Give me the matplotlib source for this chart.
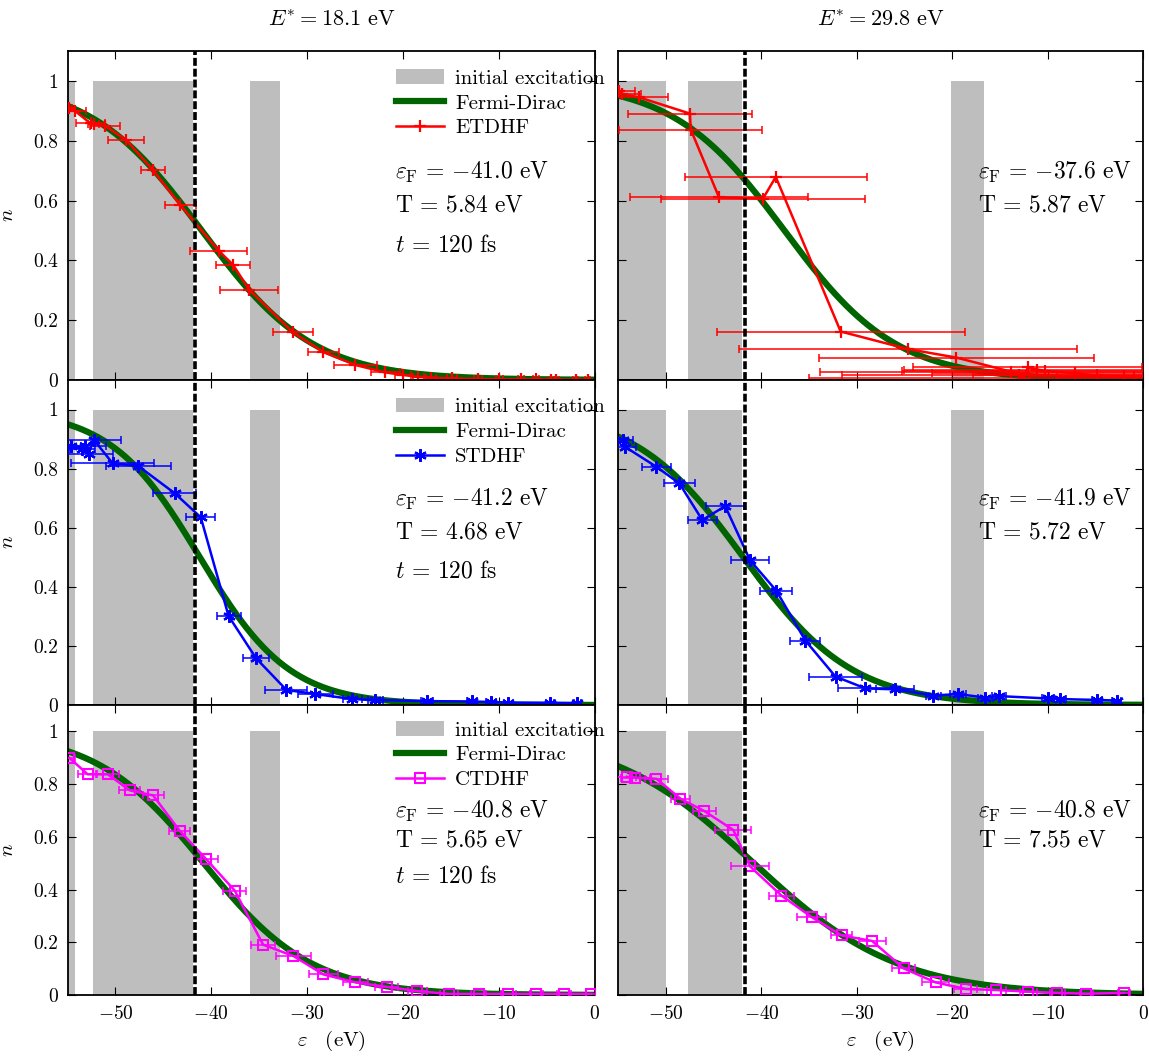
import numpy as np
import matplotlib
matplotlib.use('Agg')
import matplotlib.pyplot as plt
from matplotlib.ticker import FuncFormatter

plt.rcParams['font.family'] = 'serif'
plt.rcParams['font.serif'] = ['cmr10', 'DejaVu Serif']
plt.rcParams['mathtext.fontset'] = 'cm'
plt.rcParams['axes.formatter.use_mathtext'] = True
plt.rcParams['axes.unicode_minus'] = False

# column headers
titles = [r'$E^{*} = 18.1\ \mathrm{eV}$', r'$E^{*} = 29.8\ \mathrm{eV}$']

# initial excitation bands (eV)
bands_18 = [(-55.5, -54.2), (-52.3, -41.9), (-36.0, -32.8)]
bands_30 = [(-55.5, -50.0), (-47.7, -42.0), (-20.1, -16.7)]
fermi_line = -41.75

# Fermi-Dirac fit parameters (eF, T) per panel, as written on the chart
fd_18 = [(-41.0, 5.84), (-41.2, 4.68), (-40.8, 5.65)]
fd_30 = [(-37.6, 5.87), (-41.9, 5.72), (-40.8, 7.55)]

# ETDHF, E* = 18.1
etdhf_18_e = [-54.87, -54.24, -52.6, -52.27, -51.1, -48.9, -46.07, -43.26, -39.23, -37.75, -36.06,
              -31.48, -28.3, -24.96, -21.83, -20.0, -18.4, -17.1, -14.9, -12.2, -9.95, -7.7, -6.16,
              -4.54, -4.0, -2.0, -0.75]
etdhf_18_n = [0.909, 0.900, 0.858, 0.855, 0.850, 0.803, 0.701, 0.586, 0.432, 0.386, 0.302,
              0.159, 0.093, 0.050, 0.025, 0.017, 0.010, 0.008, 0.005, 0.003, 0.002, 0.002, 0.002,
              0.001, 0.001, 0.001, 0.001]
etdhf_18_err = [0.3, 1.2, 1.5, 0.6, 1.6, 1.9, 1.26, 1.62, 3.0, 1.8, 3.0,
                2.06, 1.66, 2.25, 1.56, 0.8, 0.6, 0.5, 0.5, 0.4, 0.4, 0.3, 0.3,
                0.3, 0.3, 0.3, 0.3]

# ETDHF, E* = 29.8
etdhf_30_e = [-54.9, -54.6, -52.8, -47.5, -47.4, -44.45, -39.85, -38.5, -31.7, -24.6, -19.6,
              -13.9, -13.0, -12.5, -12.1, -11.1, -10.3, -7.1, -4.8, -2.0, -1.0]
etdhf_30_n = [0.965, 0.957, 0.945, 0.891, 0.837, 0.611, 0.606, 0.679, 0.162, 0.103, 0.075,
              0.028, 0.018, 0.008, 0.042, 0.035, 0.030, 0.022, 0.015, 0.012, 0.010]
etdhf_30_err = [1.6, 2.0, 3.0, 6.5, 7.5, 9.3, 10.7, 9.55, 13.0, 17.7, 14.4,
                20.0, 18.6, 22.5, 12.0, 14.0, 15.0, 15.0, 13.0, 10.0, 8.0]

# STDHF, E* = 18.1
stdhf_18_e = [-54.6, -53.5, -53.16, -52.8, -52.27, -50.3, -47.63, -43.8, -41.1, -38.2, -35.33,
              -32.17, -29.14, -25.3, -22.9, -17.5, -12.8, -10.8, -9.0, -4.7, -1.8]
stdhf_18_n = [0.875, 0.866, 0.878, 0.849, 0.898, 0.818, 0.809, 0.716, 0.635, 0.301, 0.158,
              0.051, 0.037, 0.020, 0.017, 0.013, 0.012, 0.010, 0.008, 0.007, 0.006]
stdhf_18_err = [1.0, 1.4, 2.2, 2.5, 2.8, 4.3, 3.4, 2.25, 1.5, 1.26, 1.35,
                2.2, 1.8, 1.0, 0.8, 0.6, 0.5, 0.5, 0.5, 0.4, 0.4]

# STDHF, E* = 29.8
stdhf_30_e = [-54.5, -54.3, -51.0, -48.6, -46.2, -43.8, -41.2, -38.45, -35.4, -32.24, -29.1,
              -26.0, -22.0, -19.4, -16.55, -15.1, -10.0, -8.7, -4.85, -2.8]
stdhf_30_n = [0.896, 0.874, 0.806, 0.750, 0.626, 0.673, 0.490, 0.387, 0.218, 0.096, 0.056,
              0.053, 0.032, 0.037, 0.025, 0.030, 0.022, 0.020, 0.017, 0.015]
stdhf_30_err = [1.0, 1.2, 1.5, 1.6, 1.5, 2.0, 1.95, 1.66, 1.58, 2.8, 2.9,
                2.0, 0.8, 0.8, 0.8, 0.7, 0.6, 0.6, 0.5, 0.5]

# CTDHF, E* = 18.1
ctdhf_18_e = [-54.8, -52.9, -50.8, -48.5, -46.07, -43.3, -40.56, -37.56, -34.6, -31.44, -28.3,
              -24.96, -21.7, -18.5, -15.2, -12.1, -9.0, -6.1, -3.2, -0.35]
ctdhf_18_n = [0.899, 0.837, 0.837, 0.776, 0.757, 0.623, 0.516, 0.396, 0.191, 0.148, 0.078,
              0.048, 0.031, 0.015, 0.004, 0.004, 0.004, 0.004, 0.004, 0.004]
ctdhf_18_err = [0.6, 1.0, 1.2, 1.1, 1.1, 1.1, 1.3, 1.2, 1.25, 1.8, 1.5,
                1.3, 1.2, 1.0, 0.9, 0.8, 0.8, 0.7, 0.7, 0.6]

# CTDHF, E* = 29.8
ctdhf_30_e = [-54.1, -53.2, -51.0, -48.5, -46.0, -42.95, -41.2, -37.9, -34.75, -31.6, -28.4,
              -25.1, -21.76, -18.6, -15.4, -12.05, -9.0, -5.96, -2.0]
ctdhf_30_n = [0.828, 0.824, 0.820, 0.745, 0.698, 0.626, 0.488, 0.377, 0.296, 0.226, 0.205,
              0.101, 0.048, 0.023, 0.019, 0.013, 0.008, 0.005, 0.008]
ctdhf_30_err = [1.0, 1.5, 1.2, 1.0, 1.2, 1.9, 2.0, 1.35, 1.5, 1.1, 1.4,
                1.2, 1.4, 1.2, 1.0, 0.9, 0.8, 0.7, 0.6]

methods = ['ETDHF', 'STDHF', 'CTDHF']
colors = ['#ff0000', '#0000ff', '#ff00ff']
markers = ['+', (6, 2, 0), 's']
data = [
    [(etdhf_18_e, etdhf_18_n, etdhf_18_err), (etdhf_30_e, etdhf_30_n, etdhf_30_err)],
    [(stdhf_18_e, stdhf_18_n, stdhf_18_err), (stdhf_30_e, stdhf_30_n, stdhf_30_err)],
    [(ctdhf_18_e, ctdhf_18_n, ctdhf_18_err), (ctdhf_30_e, ctdhf_30_n, ctdhf_30_err)],
]
fits = [fd_18, fd_30]
bands = [bands_18, bands_30]

fig = plt.figure(figsize=(11.49, 10.59), dpi=100)
col_left = [0.0588, 0.5381]
col_width = [0.4588, 0.4569]
row_bottom = [0.6412, 0.3343, 0.0604]
row_height = [0.3106, 0.3069, 0.2739]

green = '#006400'
grey = '#bebebe'
eps = np.linspace(-56, 0.5, 400)

for r in range(3):
    for c in range(2):
        ax = fig.add_axes([col_left[c], row_bottom[r], col_width[c], row_height[r]])
        bar_handle = None
        for a, b in bands[c]:
            bc = ax.bar(a, 1.0, width=b - a, align='edge', color=grey, zorder=1,
                        label='initial excitation')
            if bar_handle is None:
                bar_handle = bc
        ef, T = fits[c][r]
        fd_line, = ax.plot(eps, 1.0 / (1.0 + np.exp((eps - ef) / T)), color=green, lw=4.5,
                           zorder=2, label='Fermi-Dirac')
        e, n, err = data[r][c]
        col = colors[r]
        ax.errorbar(e, n, xerr=err, fmt='none', ecolor=col, elinewidth=1.1,
                    capsize=3, capthick=1.1, zorder=3)
        if r == 2:
            m_line, = ax.plot(e, n, color=col, lw=1.8, marker='s', ms=7, mfc='none',
                              mec=col, mew=1.5, zorder=4, label=methods[r])
        else:
            m_line, = ax.plot(e, n, color=col, lw=1.8, marker=markers[r], ms=9,
                              mew=1.6, zorder=4, label=methods[r])
        ax.axvline(fermi_line, color='black', lw=2.6, ls=(0, (2.2, 0.8)), zorder=6)

        ax.set_xlim(-55, 0)
        ax.set_ylim(0, 1.1)
        ax.set_xticks([-50, -40, -30, -20, -10, 0])
        ax.set_yticks([0, 0.2, 0.4, 0.6, 0.8, 1.0])
        ax.tick_params(direction='in', top=True, right=True, length=6, width=0.8,
                       labelsize=14, pad=7)
        ax.xaxis.set_major_formatter(FuncFormatter(lambda v, p: r'$%g$' % v))
        ax.yaxis.set_major_formatter(FuncFormatter(lambda v, p: '%g' % v))
        for s in ax.spines.values():
            s.set_linewidth(1.3)
        if r < 2:
            ax.tick_params(labelbottom=False)
        else:
            ax.set_xlabel(r'$\varepsilon\quad(\mathrm{eV})$', fontsize=15)
            ax.xaxis.set_label_coords(0.5, -0.115)
        if c == 1:
            ax.tick_params(labelleft=False)
        else:
            ax.set_ylabel(r'$n$', fontsize=15)
            ax.yaxis.set_label_coords(-0.095, 0.5)

        tx = 0.621 if c == 0 else 0.685
        ax.text(tx, 0.632, r'$\varepsilon_{\mathrm{F}}\,=\,{%.1f}\ \mathrm{eV}$' % ef,
                transform=ax.transAxes, fontsize=17, va='center', ha='left', zorder=7)
        ax.text(tx, 0.532, r'$\mathrm{T}\,=\,{%.2f}\ \mathrm{eV}$' % T,
                transform=ax.transAxes, fontsize=17, va='center', ha='left', zorder=7)
        if c == 0:
            ax.text(tx, 0.41, r'$t\,=\,{120}\ \mathrm{fs}$', transform=ax.transAxes,
                    fontsize=17, va='center', ha='left', zorder=7)
            ax.legend(handles=[bar_handle, fd_line, m_line],
                      labels=['initial excitation', 'Fermi-Dirac', methods[r]],
                      loc='upper left', bbox_to_anchor=(0.623, 0.945), frameon=False,
                      fontsize=15, borderaxespad=0, borderpad=0, handlelength=2.3,
                      handletextpad=0.55, labelspacing=0.3, numpoints=1)
        if r == 0:
            ax.set_title(titles[c], fontsize=16, pad=18)

fig.savefig('out.png', dpi=100)
